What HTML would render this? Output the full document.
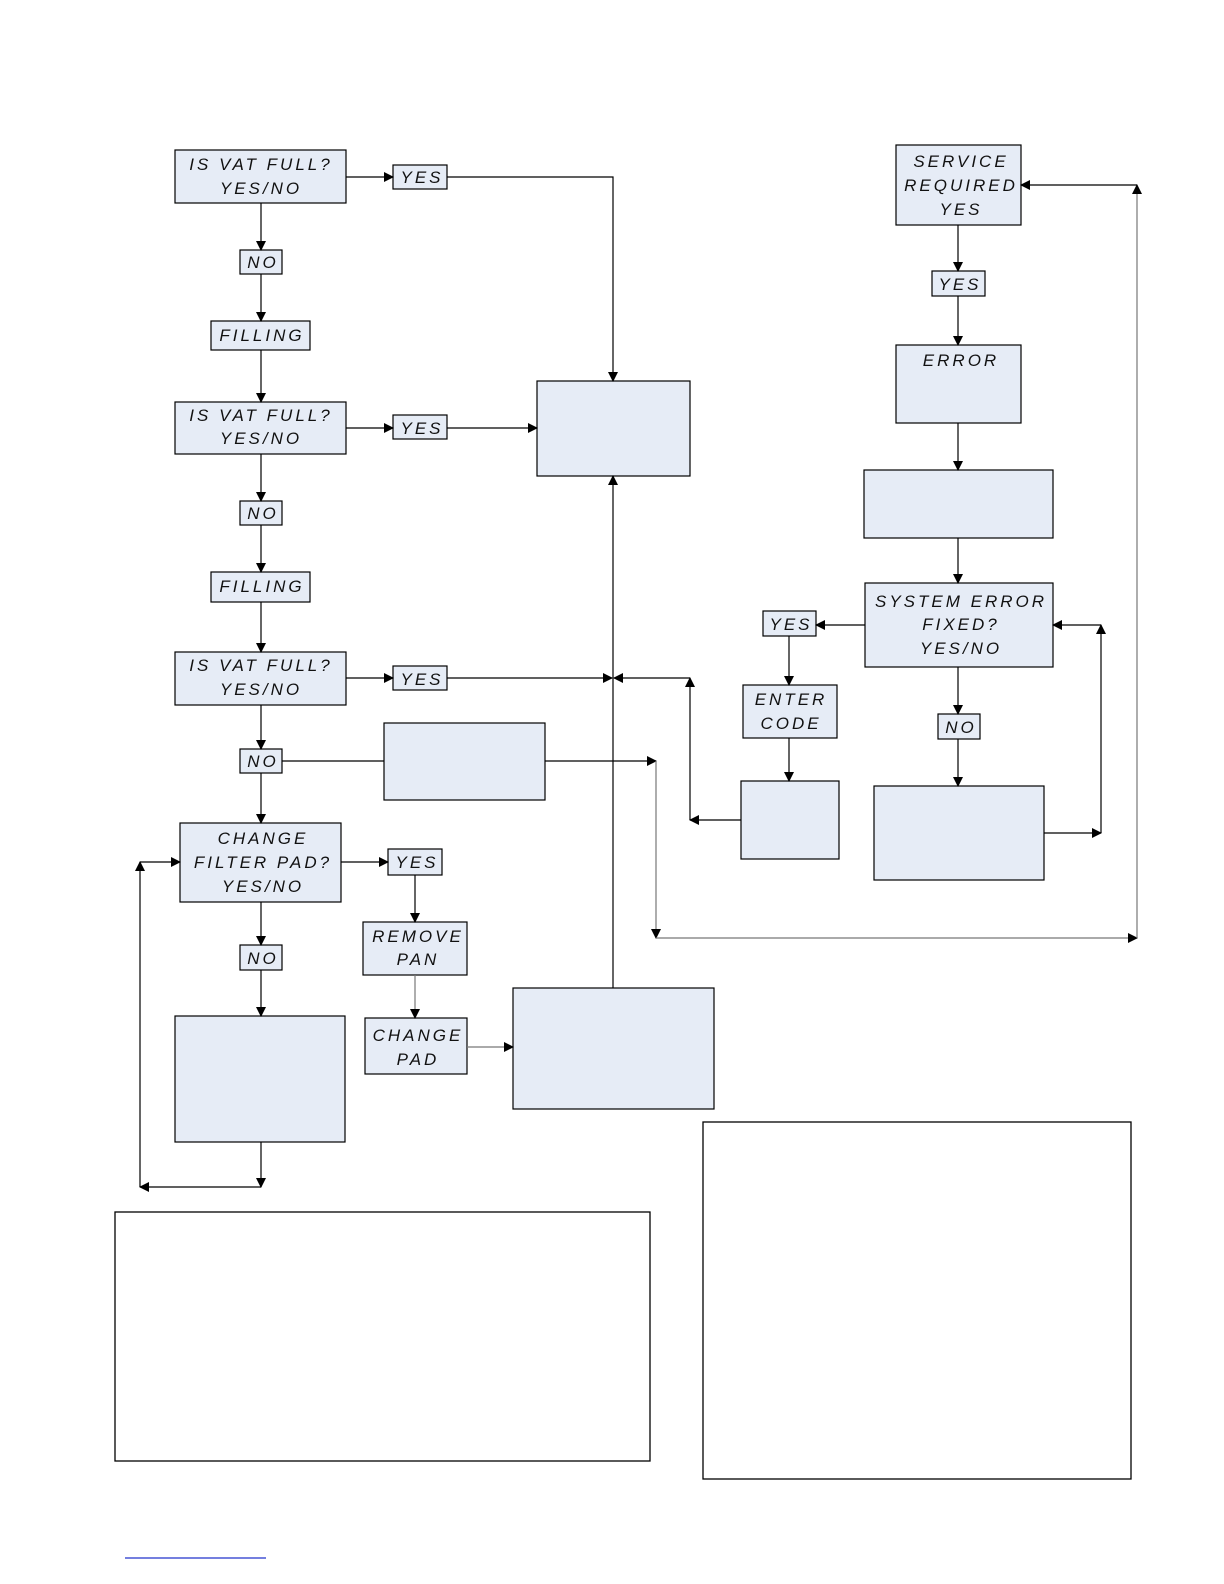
<!DOCTYPE html>
<html><head><style>
html,body{margin:0;padding:0;background:#fff;overflow:hidden;width:100vw;height:100vh}
svg{display:block;width:100vw;height:100vh}
svg text{font-family:"Liberation Sans",sans-serif;font-style:italic;font-size:17px;letter-spacing:3px;text-anchor:middle;fill:#111}
</style></head><body>
<svg viewBox="0 0 1224 1584" preserveAspectRatio="none" xmlns="http://www.w3.org/2000/svg">
<defs><marker id="a" markerWidth="10" markerHeight="10" refX="9" refY="5" orient="auto" markerUnits="userSpaceOnUse"><path d="M0,0 L10,5 L0,10z" fill="#000"/></marker></defs>
<g fill="#e6ecf6" stroke="#000" stroke-width="1.2">
<rect x="175" y="150" width="171" height="53"/><rect x="393" y="165" width="54" height="24"/>
<rect x="240" y="250" width="42" height="24"/><rect x="211" y="321" width="99" height="29"/>
<rect x="175" y="402" width="171" height="52"/><rect x="393" y="415" width="54" height="24"/>
<rect x="537" y="381" width="153" height="95"/>
<rect x="240" y="501" width="42" height="24"/><rect x="211" y="572" width="99" height="30"/>
<rect x="175" y="652" width="171" height="53"/><rect x="393" y="666" width="54" height="24"/>
<rect x="240" y="749" width="42" height="24"/><rect x="384" y="723" width="161" height="77"/>
<rect x="180" y="823" width="161" height="79"/><rect x="388" y="849" width="54" height="26"/>
<rect x="363" y="922" width="104" height="53"/><rect x="365" y="1018" width="102" height="56"/>
<rect x="513" y="988" width="201" height="121"/>
<rect x="240" y="945" width="42" height="25"/><rect x="175" y="1016" width="170" height="126"/>
<rect x="896" y="145" width="125" height="80"/><rect x="932" y="271" width="53" height="25"/>
<rect x="896" y="345" width="125" height="78"/><rect x="864" y="470" width="189" height="68"/>
<rect x="865" y="583" width="188" height="84"/><rect x="763" y="611" width="53" height="25"/>
<rect x="743" y="685" width="94" height="53"/><rect x="741" y="781" width="98" height="78"/>
<rect x="938" y="714" width="42" height="25"/><rect x="874" y="786" width="170" height="94"/>
</g>
<g fill="none" stroke-width="1.3"><rect x="115" y="1212" width="535" height="249" stroke="#000"/><rect x="703" y="1122" width="428" height="357" stroke="#000"/></g>
<g fill="none" stroke="#000" stroke-width="1.2">
<line x1="346" y1="177" x2="393" y2="177" marker-end="url(#a)"/>
<polyline points="447,177 613,177 613,381" marker-end="url(#a)"/>
<line x1="261" y1="203" x2="261" y2="250" marker-end="url(#a)"/>
<line x1="261" y1="274" x2="261" y2="321" marker-end="url(#a)"/>
<line x1="261" y1="350" x2="261" y2="402" marker-end="url(#a)"/>
<line x1="346" y1="428" x2="393" y2="428" marker-end="url(#a)"/>
<line x1="447" y1="428" x2="537" y2="428" marker-end="url(#a)"/>
<line x1="261" y1="454" x2="261" y2="501" marker-end="url(#a)"/>
<line x1="261" y1="525" x2="261" y2="572" marker-end="url(#a)"/>
<line x1="261" y1="602" x2="261" y2="652" marker-end="url(#a)"/>
<line x1="346" y1="678" x2="393" y2="678" marker-end="url(#a)"/>
<line x1="447" y1="678" x2="612" y2="678" marker-end="url(#a)"/>
<line x1="613" y1="988" x2="613" y2="476" marker-end="url(#a)"/>
<line x1="261" y1="705" x2="261" y2="749" marker-end="url(#a)"/>
<line x1="282" y1="761" x2="384" y2="761"/>
<line x1="545" y1="761" x2="656" y2="761" marker-end="url(#a)"/>
<line x1="656" y1="761" x2="656" y2="938" marker-end="url(#a)" stroke="#777"/>
<line x1="656" y1="938" x2="1137" y2="938" marker-end="url(#a)" stroke="#777"/>
<line x1="1137" y1="938" x2="1137" y2="185" marker-end="url(#a)" stroke="#777"/>
<line x1="1137" y1="185" x2="1021" y2="185" marker-end="url(#a)"/>
<line x1="690" y1="678" x2="614" y2="678" marker-end="url(#a)"/>
<line x1="690" y1="820" x2="690" y2="678" marker-end="url(#a)"/>
<line x1="741" y1="820" x2="690" y2="820" marker-end="url(#a)"/>
<line x1="261" y1="773" x2="261" y2="823" marker-end="url(#a)"/>
<line x1="341" y1="862" x2="388" y2="862" marker-end="url(#a)"/>
<line x1="415" y1="875" x2="415" y2="922" marker-end="url(#a)"/>
<line x1="415" y1="975" x2="415" y2="1018" marker-end="url(#a)" stroke="#777"/>
<line x1="467" y1="1047" x2="513" y2="1047" marker-end="url(#a)" stroke="#777"/>
<line x1="261" y1="902" x2="261" y2="945" marker-end="url(#a)"/>
<line x1="261" y1="970" x2="261" y2="1016" marker-end="url(#a)"/>
<line x1="261" y1="1142" x2="261" y2="1187" marker-end="url(#a)"/>
<line x1="261" y1="1187" x2="140" y2="1187" marker-end="url(#a)"/>
<line x1="140" y1="1187" x2="140" y2="862" marker-end="url(#a)"/>
<line x1="140" y1="862" x2="180" y2="862" marker-end="url(#a)"/>
<line x1="958" y1="225" x2="958" y2="271" marker-end="url(#a)"/>
<line x1="958" y1="296" x2="958" y2="345" marker-end="url(#a)"/>
<line x1="958" y1="423" x2="958" y2="470" marker-end="url(#a)"/>
<line x1="958" y1="538" x2="958" y2="583" marker-end="url(#a)"/>
<line x1="865" y1="625" x2="816" y2="625" marker-end="url(#a)"/>
<line x1="789" y1="636" x2="789" y2="685" marker-end="url(#a)"/>
<line x1="789" y1="738" x2="789" y2="781" marker-end="url(#a)"/>
<line x1="958" y1="667" x2="958" y2="714" marker-end="url(#a)"/>
<line x1="958" y1="739" x2="958" y2="786" marker-end="url(#a)"/>
<line x1="1044" y1="833" x2="1101" y2="833" marker-end="url(#a)"/>
<line x1="1101" y1="833" x2="1101" y2="625" marker-end="url(#a)"/>
<line x1="1101" y1="625" x2="1053" y2="625" marker-end="url(#a)"/>
<line x1="125" y1="1558" x2="266" y2="1558" stroke="#2233cc"/>
</g>
<text x="261" y="170">IS VAT FULL?</text><text x="261" y="194">YES/NO</text>
<text x="422" y="183">YES</text><text x="263" y="268">NO</text><text x="262" y="341">FILLING</text>
<text x="261" y="421">IS VAT FULL?</text><text x="261" y="444">YES/NO</text>
<text x="422" y="434">YES</text><text x="263" y="519">NO</text><text x="262" y="592">FILLING</text>
<text x="261" y="671">IS VAT FULL?</text><text x="261" y="695">YES/NO</text>
<text x="422" y="685">YES</text><text x="263" y="767">NO</text>
<text x="263" y="844">CHANGE</text><text x="263" y="868">FILTER PAD?</text><text x="263" y="892">YES/NO</text>
<text x="417" y="868">YES</text><text x="263" y="964">NO</text>
<text x="418" y="942">REMOVE</text><text x="418" y="965">PAN</text>
<text x="418" y="1041">CHANGE</text><text x="418" y="1065">PAD</text>
<text x="961" y="167">SERVICE</text><text x="961" y="191">REQUIRED</text><text x="961" y="215">YES</text>
<text x="960" y="290">YES</text><text x="961" y="366">ERROR</text>
<text x="961" y="607">SYSTEM ERROR</text><text x="961" y="630">FIXED?</text><text x="961" y="654">YES/NO</text>
<text x="791" y="630">YES</text><text x="791" y="705">ENTER</text><text x="791" y="729">CODE</text>
<text x="961" y="733">NO</text>
</svg>
</body></html>
